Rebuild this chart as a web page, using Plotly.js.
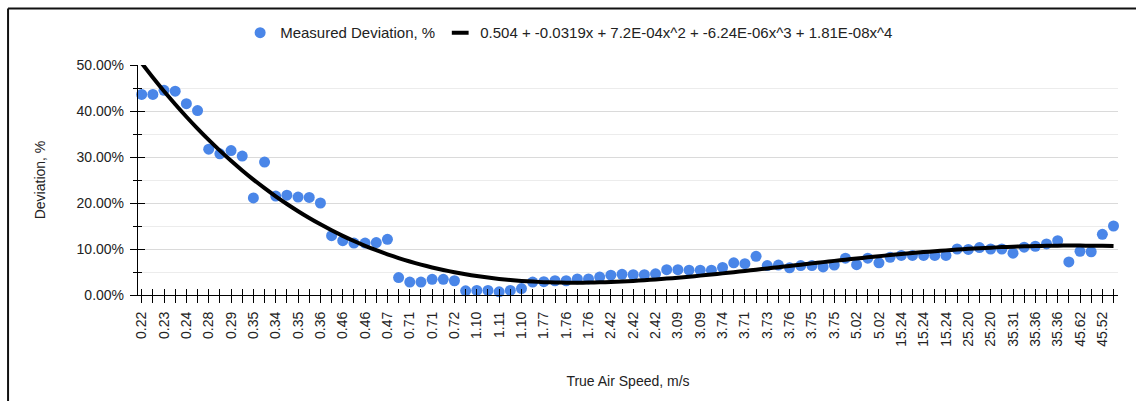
<!DOCTYPE html>
<html>
<head>
<meta charset="utf-8">
<script src="https://cdn.plot.ly/plotly-3.0.1.min.js"></script>
<style>
  html, body { margin: 0; padding: 0; background: #ffffff; }
  #chart { width: 1136px; height: 401px; }
</style>
</head>
<body>
<div id="chart"></div>
<script>
// Tick labels shown on the x axis (every second category), True Air Speed, m/s
const speedLabels = ['0.22','0.23','0.24','0.28','0.29','0.35','0.34','0.35','0.36','0.46',
  '0.46','0.47','0.71','0.71','0.72','1.10','1.11','1.10','1.77','1.76',
  '1.76','2.42','2.42','2.42','3.09','3.09','3.74','3.71','3.73','3.76',
  '3.75','3.75','5.02','5.02','15.24','15.24','15.24','25.20','25.20','35.31',
  '35.36','35.36','45.62','45.52'];

// Measured deviation, % (one value per category, in order)
const deviationPct = [
  43.6, 43.6, 44.5, 44.3, 41.6, 40.1, 31.7, 30.7, 31.4, 30.2,
  21.1, 28.9, 21.5, 21.7, 21.3, 21.2, 20.0, 12.9, 11.8, 11.3,
  11.3, 11.4, 12.1, 3.8, 2.8, 2.8, 3.4, 3.4, 3.1, 0.9,
  1.0, 1.0, 0.7, 1.0, 1.4, 2.8, 2.9, 3.1, 3.1, 3.5,
  3.5, 3.9, 4.3, 4.5, 4.4, 4.4, 4.6, 5.5, 5.5, 5.4,
  5.4, 5.4, 6.0, 7.0, 6.8, 8.4, 6.4, 6.5, 5.9, 6.4,
  6.4, 6.1, 6.5, 8.0, 6.6, 8.0, 7.0, 8.2, 8.6, 8.6,
  8.6, 8.6, 8.6, 10.0, 9.9, 10.3, 10.0, 10.0, 9.1, 10.4,
  10.6, 11.1, 11.8, 7.2, 9.5, 9.4, 13.2, 15.0
];

// Polynomial trendline coefficients (from the legend): c0 + c1 x + c2 x^2 + c3 x^3 + c4 x^4
const trendCoefs = [0.504, -0.0319, 7.2e-4, -6.24e-6, 1.81e-8];
const trendLabel = '0.504 + -0.0319x + 7.2E-04x^2 + -6.24E-06x^3 + 1.81E-08x^4';
const seriesName = 'Measured Deviation, %';

const idx = deviationPct.map((_, i) => i);
const yMeasured = deviationPct.map(v => v / 100);
const yTrend = idx.map(x => trendCoefs.reduce((s, c, k) => s + c * Math.pow(x, k), 0));
const tickVals = speedLabels.map((_, i) => 2 * i);

const FONT = 'Liberation Sans, Arial, sans-serif';
const TXT = '#222222';
const xRange = [-0.33, 87.4];
const yRange = [0, 0.5];

const traces = [
  {
    x: idx, y: yMeasured, type: 'scatter', mode: 'markers', name: seriesName,
    marker: { color: '#4a86e8', size: 11 }, cliponaxis: false, hoverinfo: 'x+y'
  },
  {
    x: idx, y: yTrend, type: 'scatter', mode: 'lines', name: trendLabel,
    line: { color: '#000000', width: 4, shape: 'spline', smoothing: 0.6 },
    showlegend: false, legendgroup: 'trend'
  },
  {
    x: [null], y: [null], type: 'scatter', mode: 'markers', name: trendLabel,
    legendgroup: 'trend',
    marker: { symbol: 'line-ew-open', size: 12, color: '#000000', line: { width: 4, color: '#000000' } }
  },
  { x: [null], y: [null], xaxis: 'x2', yaxis: 'y2', type: 'scatter', mode: 'markers', showlegend: false, hoverinfo: 'skip' }
];

const border = { type: 'line', xref: 'paper', yref: 'paper', line: { color: '#111111', width: 2 } };

const layout = {
  width: 1136, height: 401,
  margin: { l: 138, r: 18, t: 65, b: 106, pad: 0 },
  paper_bgcolor: '#ffffff', plot_bgcolor: '#ffffff',
  font: { family: FONT, size: 13, color: TXT },
  showlegend: true,
  legend: {
    orientation: 'h', xref: 'container', yref: 'container',
    x: 0.501, xanchor: 'center', y: 0.918, yanchor: 'middle',
    font: { family: FONT, size: 15, color: TXT }, traceorder: 'normal',
    bgcolor: 'rgba(0,0,0,0)'
  },
  xaxis: {
    range: xRange, tickmode: 'array', tickvals: tickVals, ticktext: speedLabels,
    tickangle: -90, ticks: 'outside', ticklen: 7, tickwidth: 1, tickcolor: '#000000',
    minor: { tickmode: 'linear', tick0: 0, dtick: 1, ticks: 'outside', ticklen: 7, tickwidth: 1, tickcolor: '#000000', showgrid: false },
    showgrid: false, zeroline: false, showline: true, linecolor: '#000000', linewidth: 1.3,
    tickfont: { family: FONT, size: 14, color: TXT }, ticklabelstandoff: 3,
    title: { text: 'True Air Speed, m/s', font: { family: FONT, size: 14, color: TXT }, standoff: 30 },
    fixedrange: true
  },
  yaxis: {
    range: yRange, tickmode: 'linear', tick0: 0, dtick: 0.1, tickformat: '.2%',
    ticks: 'outside', ticklen: 7, tickwidth: 1, tickcolor: '#000000',
    minor: { tickmode: 'linear', tick0: 0, dtick: 0.05, ticks: 'outside', ticklen: 4, tickwidth: 1, tickcolor: '#000000', showgrid: true, gridcolor: '#ececec', gridwidth: 1 },
    showgrid: true, gridcolor: '#dadada', gridwidth: 1,
    zeroline: false, showline: true, linecolor: '#000000', linewidth: 1.3,
    tickfont: { family: FONT, size: 14, color: TXT }, ticklabelstandoff: 3,
    title: { text: 'Deviation, %', font: { family: FONT, size: 14, color: TXT }, standoff: 27 },
    fixedrange: true
  },
  xaxis2: {
    overlaying: 'x', anchor: 'y2', range: xRange, tickmode: 'linear', tick0: 0, dtick: 1,
    ticks: 'inside', ticklen: 6, tickwidth: 1, tickcolor: '#000000',
    showticklabels: false, showgrid: false, zeroline: false, showline: false, fixedrange: true
  },
  yaxis2: {
    overlaying: 'y', anchor: 'x2', range: yRange, tickmode: 'linear', tick0: 0, dtick: 0.1,
    ticks: 'inside', ticklen: 7, tickwidth: 1, tickcolor: '#000000',
    minor: { tickmode: 'linear', tick0: 0, dtick: 0.05, ticks: 'inside', ticklen: 4, tickwidth: 1, tickcolor: '#000000', showgrid: false },
    showticklabels: false, showgrid: false, zeroline: false, showline: false, fixedrange: true
  },
  shapes: [
    Object.assign({}, border, { x0: -0.1326, x1: -0.1326, y0: 1.246, y1: -0.47 }),
    Object.assign({}, border, { x0: -0.1326, x1: 1.02, y0: 1.246, y1: 1.246 })
  ]
};

Plotly.newPlot('chart', traces, layout, { displayModeBar: false, staticPlot: false });
</script>
</body>
</html>
